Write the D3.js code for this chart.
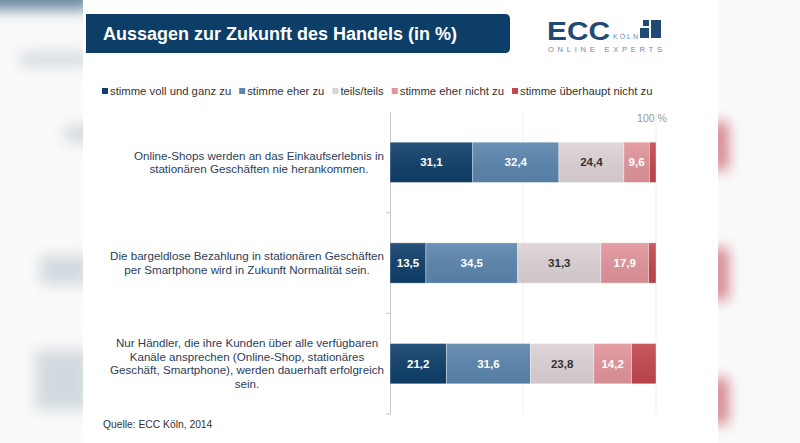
<!DOCTYPE html>
<html><head><meta charset="utf-8">
<script src="https://cdn.jsdelivr.net/npm/d3@7"></script>
<style>body{margin:0;background:#fafafa}svg{display:block}text{font-family:"Liberation Sans",Arial,sans-serif}</style>
</head><body><svg id="c" width="800" height="443"></svg>
<script>
const categories = [
  ["Online-Shops werden an das Einkaufserlebnis in","stationären Geschäften nie herankommen."],
  ["Die bargeldlose Bezahlung in stationären Geschäften","per Smartphone wird in Zukunft Normalität sein."],
  ["Nur Händler, die ihre Kunden über alle verfügbaren","Kanäle ansprechen (Online-Shop, stationäres","Geschäft, Smartphone), werden dauerhaft erfolgreich","sein."]
];
const seriesNames = ["stimme voll und ganz zu","stimme eher zu","teils/teils","stimme eher nicht zu","stimme überhaupt nicht zu"];
const vollUndGanz = [31.1, 13.5, 21.2];
const eherZu = [32.4, 34.5, 31.6];
const teilsTeils = [24.4, 31.3, 23.8];
const eherNicht = [9.6, 17.9, 14.2];
const ueberhauptNicht = [2.5, 2.8, 9.2];
const valueLabels = [["31,1","32,4","24,4","9,6",""],["13,5","34,5","31,3","17,9",""],["21,2","31,6","23,8","14,2",""]];
const title = "Aussagen zur Zukunft des Handels (in %)";
const source = "Quelle: ECC Köln, 2014";
const xTickLabel = "100 %";

const colors = ["#0f3f6a","#5b85ad","#ddd3d6","#e2959b","#c3474f"];
const labelColors = ["#fff","#fff","#333","#fff","#fff"];

const svg = d3.select("#c");
const defs = svg.append("defs");
defs.append("filter").attr("id","blur").attr("x","-50%").attr("y","-50%").attr("width","200%").attr("height","200%")
  .append("feGaussianBlur").attr("stdDeviation",7);
const g1 = defs.append("linearGradient").attr("id","shade").attr("x1",0).attr("y1",0).attr("x2",0).attr("y2",1);
g1.append("stop").attr("offset","0%").attr("stop-color","#fff").attr("stop-opacity",0.10);
g1.append("stop").attr("offset","100%").attr("stop-color","#000").attr("stop-opacity",0.06);

// blurred side decorations
const deco = svg.append("g").attr("filter","url(#blur)");
deco.append("rect").attr("x",-20).attr("y",-20).attr("width",110).attr("height",30).attr("fill","#3f6585").attr("opacity",0.75);
[[20,52,70,14],[65,125,30,18],[40,255,50,30],[35,350,55,60]].forEach(d=>
  deco.append("rect").attr("x",d[0]).attr("y",d[1]).attr("width",d[2]).attr("height",d[3]).attr("fill","#d3dadf"));
[[712,122,16,48],[712,248,16,52],[712,378,16,46]].forEach(d=>
  deco.append("rect").attr("x",d[0]).attr("y",d[1]).attr("width",d[2]).attr("height",d[3]).attr("fill","#d07a85"));
// slide
svg.append("rect").attr("x",83).attr("y",0).attr("width",635).attr("height",443).attr("fill","#fff");

// title box
svg.append("path").attr("d","M86,14 H505 Q510,14 510,19 V48 Q510,53 505,53 H86 Z").attr("fill","#0d3e68");
svg.append("text").attr("x",103).attr("y",40).attr("fill","#fff").attr("font-size",18).attr("font-weight","bold").text(title);

// logo
const logo = svg.append("g").attr("fill","#1e4a74");
logo.append("text").attr("x",547).attr("y",39.5).attr("font-size",25).attr("font-weight","bold").attr("textLength",63).attr("lengthAdjust","spacingAndGlyphs").text("ECC");
logo.append("text").attr("x",613).attr("y",39).attr("font-size",7).attr("fill","#6f8aa5").attr("textLength",25).text("KÖLN");
logo.append("rect").attr("x",640).attr("y",28).attr("width",9).attr("height",10);
logo.append("rect").attr("x",643).attr("y",20).attr("width",6).attr("height",6);
logo.append("rect").attr("x",651).attr("y",20).attr("width",10).attr("height",18);
logo.append("text").attr("x",548).attr("y",51.5).attr("font-size",7.5).attr("fill","#6f8aa5").attr("textLength",114).attr("lengthAdjust","spacing").text("ONLINE EXPERTS");

// legend
let lx = 102;
seriesNames.forEach((n,i)=>{
  svg.append("rect").attr("x",lx).attr("y",88).attr("width",6).attr("height",6).attr("fill",colors[i]);
  const t = svg.append("text").attr("x",lx+8).attr("y",95).attr("font-size",11.3).attr("fill","#333").text(n);
  lx += 8 + t.node().getComputedTextLength() + 8;
});

// scales
const x = d3.scaleLinear().domain([0,100]).range([390,656]);
const y = d3.scaleBand().domain(d3.range(categories.length)).range([112,414]).paddingInner(0.6).paddingOuter(0.3);

// gridlines
[50,100].forEach(v=>svg.append("line").attr("x1",x(v)).attr("x2",x(v)).attr("y1",112).attr("y2",414).attr("stroke","#eeeeee").attr("stroke-width",1));
svg.append("text").attr("x",x(100)-4).attr("y",122).attr("text-anchor","middle").attr("font-size",10.5).attr("fill","#999").text(xTickLabel);

// axis
const axis = d3.axisLeft(y).tickSize(0).tickFormat("");
const ag = svg.append("g").attr("transform",`translate(${x(0)},0)`).call(axis);
ag.select(".domain").attr("stroke","#c8c8c8");
const step = y.step();
[1,2,3].forEach(k=>{
  const yy = 112 + k*step;
  ag.append("line").attr("x1",-4).attr("x2",0).attr("y1",yy).attr("y2",yy).attr("stroke","#c8c8c8");
});

// stacks
const series = [vollUndGanz, eherZu, teilsTeils, eherNicht, ueberhauptNicht];
const rows = categories.map((c,i)=>{const o={idx:i}; series.forEach((s,k)=>o["s"+k]=s[i]); return o;});
const stack = d3.stack().keys(series.map((s,k)=>"s"+k))(rows);
stack.forEach((layer,k)=>{
  const g = svg.append("g");
  layer.forEach((d,i)=>{
    const x0 = x(d[0]), x1 = x(d[1]);
    g.append("rect").attr("x",x0).attr("y",y(i)).attr("width",x1-x0).attr("height",y.bandwidth()).attr("fill",colors[k]);
    g.append("rect").attr("x",x0).attr("y",y(i)).attr("width",x1-x0).attr("height",y.bandwidth()).attr("fill","url(#shade)")
      .attr("stroke","rgba(255,255,255,0.45)").attr("stroke-width",0.8);
    const lab = valueLabels[i][k];
    if (lab) g.append("text").attr("x",(x0+x1)/2).attr("y",y(i)+y.bandwidth()/2+4).attr("text-anchor","middle")
      .attr("font-size",11.5).attr("font-weight","bold").attr("fill",labelColors[k]).text(lab);
  });
});

// category labels
const lh = 13.5;
categories.forEach((lines,i)=>{
  const cy = y(i)+y.bandwidth()/2;
  const g = svg.append("g");
  const ts = lines.map((l,j)=>g.append("text").attr("y",cy + (j-(lines.length-1)/2)*lh + 4).attr("font-size",11.6).attr("fill","#2a4058").attr("text-anchor","middle").text(l));
  const w = d3.max(ts,t=>t.node().getComputedTextLength());
  ts.forEach(t=>t.attr("x",384 - w/2));
});

svg.append("text").attr("x",103).attr("y",428).attr("font-size",10.3).attr("fill","#333").text(source);
</script></body></html>
